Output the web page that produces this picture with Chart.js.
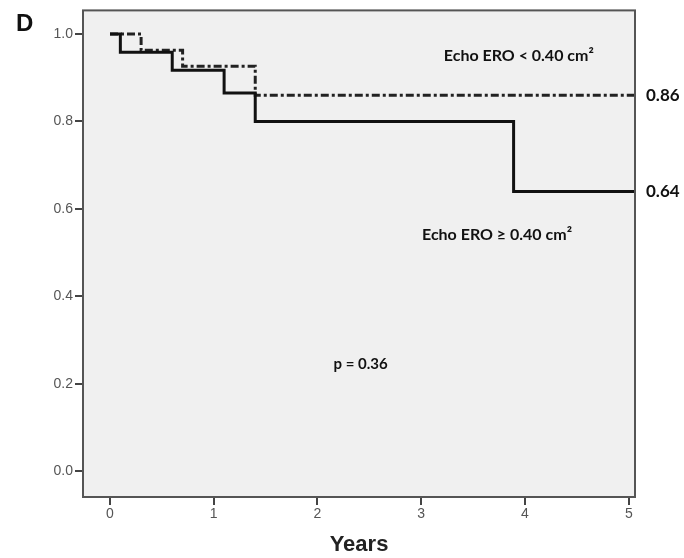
<!DOCTYPE html>
<html>
<head>
<meta charset="utf-8">
<script src="https://cdn.jsdelivr.net/npm/chart.js@4/dist/chart.umd.min.js"></script>
<style>
  html, body { margin: 0; padding: 0; background: #fff; }
  #wrap { width: 684px; height: 558px; position: relative; }
</style>
</head>
<body>
<div id="wrap"><canvas id="kmChart"></canvas></div>
<script>
// survival data
const ge040Times = [0, 0.1, 0.6, 1.1, 1.4, 3.89, 5.06];
const ge040Surv = [1.0, 0.958, 0.917, 0.865, 0.80, 0.64, 0.64];
const lt040Times = [0, 0.3, 0.7, 1.4, 5.06];
const lt040Surv = [1.0, 0.963, 0.926, 0.86, 0.86];

const yTickValues = [0, 0.2, 0.4, 0.6, 0.8, 1.0];
const xTickValues = [0, 1, 2, 3, 4, 5];

const toPoints = (xs, ys) => xs.map((x, i) => ({ x: x, y: ys[i] }));

const axisFont = { family: "'Liberation Sans Narrow', 'Liberation Sans', Arial, sans-serif", size: 14 };
const noteFamily = "Lato, 'Open Sans', sans-serif";

const kmDecor = {
  id: 'kmDecor',
  beforeDraw(chart) {
    const a = chart.chartArea;
    const ctx = chart.ctx;
    ctx.save();
    ctx.fillStyle = '#f0f0f0';
    ctx.fillRect(a.left, a.top, a.right - a.left, a.bottom - a.top);
    ctx.restore();
  },
  afterDraw(chart) {
    const a = chart.chartArea;
    const ctx = chart.ctx;
    const y = chart.scales.y;
    const x = chart.scales.x;
    ctx.save();
    ctx.strokeStyle = '#555';
    ctx.lineWidth = 2;
    ctx.strokeRect(a.left, a.top, a.right - a.left, a.bottom - a.top);

    ctx.fillStyle = '#111';
    ctx.font = 'bold 17px ' + noteFamily;
    ctx.textBaseline = 'middle';
    ctx.textAlign = 'left';
    ctx.fillText('0.86', a.right + 11, y.getPixelForValue(0.86));
    ctx.fillText('0.64', a.right + 11, y.getPixelForValue(0.64));

    ctx.font = 'bold 16px ' + noteFamily;
    ctx.textAlign = 'center';
    ctx.fillText('Echo ERO < 0.40 cm\u00B2', x.getPixelForValue(3.94), y.getPixelForValue(0.951));
    ctx.fillText('Echo ERO \u2265 0.40 cm\u00B2', x.getPixelForValue(3.73), y.getPixelForValue(0.540));
    ctx.font = 'bold 15px ' + noteFamily;
    ctx.fillText('p = 0.36', x.getPixelForValue(2.415), y.getPixelForValue(0.245));

    ctx.font = "bold 24px 'Liberation Sans', Arial, sans-serif";
    ctx.textAlign = 'left';
    ctx.fillText('D', 16, 24);
    ctx.restore();
  }
};

new Chart(document.getElementById('kmChart'), {
  type: 'line',
  data: {
    datasets: [
      {
        label: 'Echo ERO >= 0.40 cm2',
        data: toPoints(ge040Times, ge040Surv),
        stepped: true,
        borderColor: '#111',
        borderWidth: 3,
        pointRadius: 0,
        fill: false
      },
      {
        label: 'Echo ERO < 0.40 cm2',
        data: toPoints(lt040Times, lt040Surv),
        stepped: true,
        borderColor: '#222',
        borderWidth: 3,
        borderDash: [8, 3, 3, 3],
        pointRadius: 0,
        fill: false
      }
    ]
  },
  options: {
    responsive: true,
    maintainAspectRatio: false,
    animation: false,
    layout: { padding: { left: 0, right: 49, top: 6, bottom: 0 } },
    plugins: { legend: { display: false }, tooltip: { enabled: false } },
    scales: {
      x: {
        type: 'linear',
        min: -0.26,
        max: 5.06,
        afterBuildTicks: s => { s.ticks = xTickValues.map(v => ({ value: v })); },
        afterFit: s => { s.height = 61; },
        border: { display: false },
        grid: { drawOnChartArea: false, drawTicks: true, tickLength: 8, color: '#444', lineWidth: 2 },
        ticks: { color: '#555', font: axisFont, padding: 1, maxRotation: 0, callback: v => String(v) },
        title: {
          display: true,
          text: 'Years',
          color: '#222',
          font: { family: "'Liberation Sans Narrow', 'Liberation Sans', Arial, sans-serif", size: 22, weight: 'bold' },
          padding: { top: 4, bottom: 0 }
        }
      },
      y: {
        min: -0.059,
        max: 1.054,
        afterBuildTicks: s => { s.ticks = yTickValues.map(v => ({ value: v })); },
        afterFit: s => { s.width = 83; },
        border: { display: false },
        grid: { drawOnChartArea: false, drawTicks: true, tickLength: 8, color: '#444', lineWidth: 2 },
        ticks: { color: '#555', font: axisFont, padding: 2, callback: v => Number(v).toFixed(1) }
      }
    }
  },
  plugins: [kmDecor]
});
</script>
</body>
</html>
